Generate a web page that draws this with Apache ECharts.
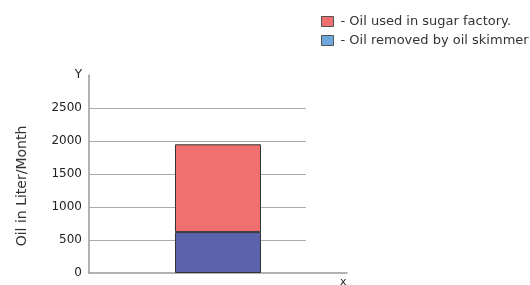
<!DOCTYPE html>
<html><head><meta charset="utf-8">
<script src="https://cdn.jsdelivr.net/npm/echarts@6/dist/echarts.min.js"></script>
<style>html,body{margin:0;padding:0;background:#fff}#c{width:530px;height:285px}</style>
</head><body><div id="c"></div>
<script>
const categories = [''];
const skimmerValues = [620];
const factoryValues = [1330];
const yTicks = [0, 500, 1000, 1500, 2000, 2500, 3000];
const seriesNames = ['Oil used in sugar factory.', 'Oil removed by oil skimmer'];
const yTitle = 'Oil in Liter/Month';

const font = 'DejaVu Sans, Liberation Sans, Arial, sans-serif';
const chart = echarts.init(document.getElementById('c'));
chart.setOption({
  animation: false,
  backgroundColor: '#fff',
  legend: {
    orient: 'vertical', left: 316, top: 10, itemWidth: 12, itemHeight: 10, itemGap: 6, icon: 'rect',
    textStyle: { fontFamily: font, fontSize: 13, color: '#333', padding: [0, 0, 0, 2] },
    formatter: n => '- ' + n,
    data: [
      { name: seriesNames[0], itemStyle: { color: '#f07070', borderColor: '#555', borderWidth: 1 } },
      { name: seriesNames[1], itemStyle: { color: '#6fa8dc', borderColor: '#555', borderWidth: 1 } }
    ]
  },
  grid: [
    { left: 89, right: 224, top: 75, bottom: 12, outerBoundsMode: 'none', containLabel: false },
    { left: 89, right: 183, top: 75, bottom: 12, outerBoundsMode: 'none', containLabel: false },
    { left: 89, right: 183, top: 100, bottom: 13, outerBoundsMode: 'none', containLabel: false }
  ],
  xAxis: [
    { gridIndex: 0, type: 'category', data: categories, show: false },
    { gridIndex: 1, type: 'category', data: categories,
      axisLine: { lineStyle: { color: '#999', width: 1.5 } }, axisTick: { show: false }, axisLabel: { show: false },
      name: 'x', nameLocation: 'end', nameGap: -7,
      nameTextStyle: { fontFamily: font, fontSize: 11, color: '#222', verticalAlign: 'top', padding: [4, 0, 0, 0] } },
    { gridIndex: 2, type: 'category', data: categories, show: false }
  ],
  yAxis: [
    { gridIndex: 0, type: 'value', min: yTicks[0], max: yTicks[yTicks.length - 1], interval: 500,
      axisLine: { show: true, lineStyle: { color: '#999', width: 1.5 } }, axisTick: { show: false },
      axisLabel: { fontFamily: font, fontSize: 12, color: '#222', margin: 7,
        formatter: v => v === 3000 ? 'Y' : String(v) },
      splitLine: { show: true, showMinLine: false, showMaxLine: false, lineStyle: { color: '#aaa', width: 1.2 } } },
    { gridIndex: 1, type: 'value', min: yTicks[0], max: yTicks[yTicks.length - 1], show: false },
    { gridIndex: 2, type: 'value', axisLine: { show: false }, axisTick: { show: false }, axisLabel: { show: false },
      splitLine: { show: false },
      name: yTitle, nameLocation: 'middle', nameGap: 60,
      nameTextStyle: { fontFamily: font, fontSize: 14, color: '#333' } }
  ],
  series: [
    { name: seriesNames[1], type: 'bar', stack: 's', xAxisIndex: 1, yAxisIndex: 1, barWidth: 86,
      data: skimmerValues, itemStyle: { color: '#5c63ad', borderColor: '#333', borderWidth: 1 } },
    { name: seriesNames[0], type: 'bar', stack: 's', xAxisIndex: 1, yAxisIndex: 1, barWidth: 86,
      data: factoryValues, itemStyle: { color: '#f07070', borderColor: '#333', borderWidth: 1 } }
  ]
});
</script></body></html>
